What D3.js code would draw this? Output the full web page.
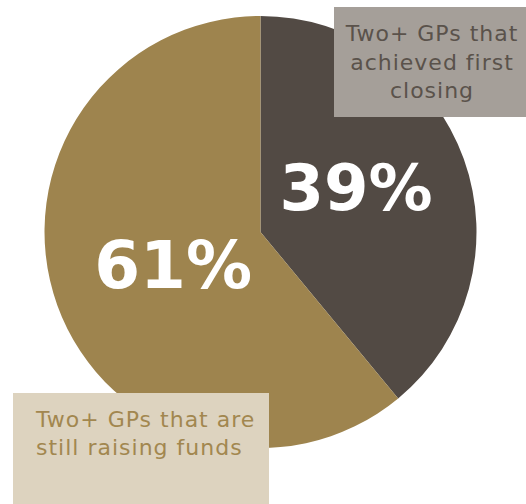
<!DOCTYPE html>
<html>
<head>
<meta charset="utf-8">
<script src="https://cdn.jsdelivr.net/npm/d3@7"></script>
<style>
  html, body { margin: 0; padding: 0; background: #fff; }
  svg { display: block; }
</style>
</head>
<body>
<svg id="chart" width="526" height="504"></svg>
<script>
const categories = ["achieved", "raising"];
const values = [39, 61];
const valueLabels = ["39%", "61%"];
const calloutLines = [
  ["Two+ GPs that", "achieved first", "closing"],
  ["Two+ GPs that are", "still raising funds"]
];

const width = 526;
const height = 504;
const cx = 260.5;
const cy = 232;
const radius = 216;
const sliceColors = ["#524a44", "#9e844e"];

const svg = d3.select("#chart");

const pie = d3.pie().sort(null).value((d) => d.value);
const arcs = pie(categories.map((c, i) => ({ category: c, value: values[i], label: valueLabels[i] })));
const arc = d3.arc().innerRadius(0).outerRadius(radius);

const g = svg.append("g").attr("transform", `translate(${cx},${cy})`);

g.selectAll("path")
  .data(arcs)
  .join("path")
  .attr("d", arc)
  .attr("fill", (d, i) => sliceColors[i]);

// big percentage labels, nudged off the centroid like the original
const labelSpots = [
  { r: 0.49, size: 64, dx: -4, dy: -8 },
  { r: 0.43, size: 66, dx: 0, dy: 2 }
];
const labelArc = (i) => d3.arc().innerRadius(radius * labelSpots[i].r).outerRadius(radius * labelSpots[i].r);

g.selectAll("text.pct")
  .data(arcs)
  .join("text")
  .attr("class", "pct")
  .attr("transform", (d, i) => {
    const [x, y] = labelArc(i).centroid(d);
    return `translate(${x + labelSpots[i].dx},${y + labelSpots[i].dy})`;
  })
  .attr("text-anchor", "middle")
  .attr("dominant-baseline", "central")
  .attr("font-family", "'DejaVu Sans', sans-serif")
  .attr("font-weight", 700)
  .attr("font-size", (d, i) => labelSpots[i].size)
  .attr("fill", "#fff")
  .text((d) => d.data.label);

// callout boxes
svg.append("rect")
  .attr("x", 334).attr("y", 7).attr("width", 200).attr("height", 110)
  .attr("fill", "#a59f99");

svg.append("text")
  .attr("text-anchor", "middle")
  .attr("font-family", "'DejaVu Sans', sans-serif")
  .attr("font-size", 22)
  .attr("letter-spacing", 1)
  .attr("fill", "#5a524b")
  .selectAll("tspan")
  .data(calloutLines[0])
  .join("tspan")
  .attr("x", 432)
  .attr("y", (d, i) => 41 + i * 28.5)
  .text((d) => d);

svg.append("rect")
  .attr("x", 13).attr("y", 393).attr("width", 256).attr("height", 111)
  .attr("fill", "#ddd3bf");

svg.append("text")
  .attr("font-family", "'DejaVu Sans', sans-serif")
  .attr("font-size", 22)
  .attr("letter-spacing", 1)
  .attr("fill", "#a2874f")
  .selectAll("tspan")
  .data(calloutLines[1])
  .join("tspan")
  .attr("x", 36)
  .attr("y", (d, i) => 427 + i * 28)
  .text((d) => d);
</script>
</body>
</html>
